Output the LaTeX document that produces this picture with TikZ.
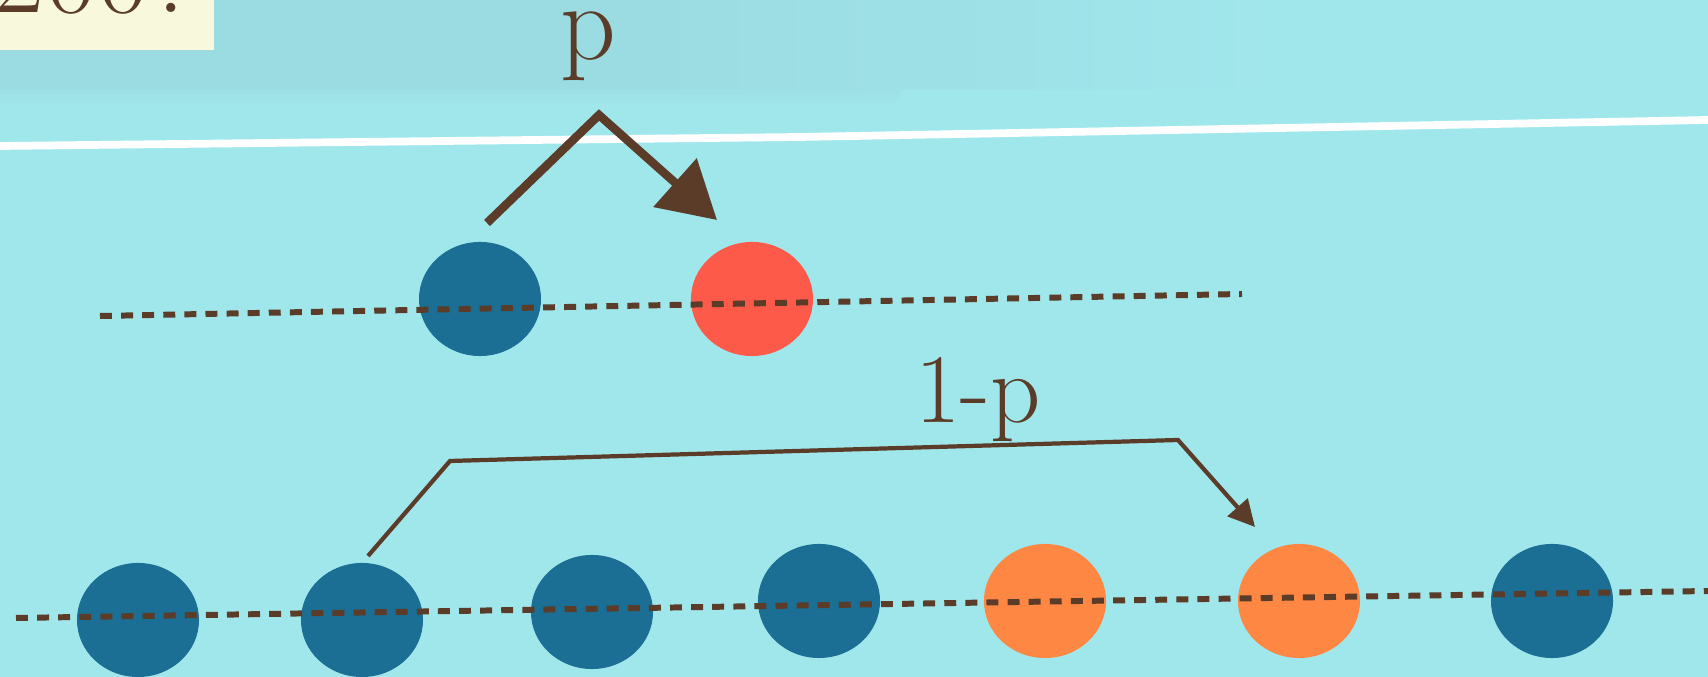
\documentclass[tikz,border=0pt]{standalone}
\usepackage{tikz}
\usetikzlibrary{shapes.geometric,arrows.meta}
\definecolor{poolbg}{HTML}{A0E7EC}
\definecolor{poolband}{HTML}{9BDCE2}
\definecolor{dotblue}{HTML}{1B6E94}
\definecolor{dotred}{HTML}{FE5A4A}
\definecolor{dotorange}{HTML}{FE8744}
\definecolor{inkbrown}{HTML}{5A3C28}
\definecolor{cream}{HTML}{F8F8DC}
\tikzset{
	dotnode/.style={ellipse, minimum width=1.22cm, minimum height=1.14cm, inner sep=0pt},
	bluedot/.style={dotnode, fill=dotblue},
	reddot/.style={dotnode, fill=dotred},
	orangedot/.style={dotnode, fill=dotorange},
	railline/.style={draw=inkbrown, line width=1.7pt, dash pattern=on 3.4pt off 2.6pt},
	jumparr/.style={draw=inkbrown, line width=2.4pt, line join=miter, -{Triangle[length=16pt, width=18pt]}},
	longarr/.style={draw=inkbrown, line width=1.2pt, line join=miter, -{Triangle[length=7.5pt, width=7.5pt]}},
	problabel/.style={text=inkbrown, anchor=base, inner sep=0pt, text height=1.6ex, text depth=0.25em}
}
\begin{document}
\begin{tikzpicture}[x=0.01cm, y=-0.01cm]
	\useasboundingbox (0,0) rectangle (1708,677);
	\fill[poolbg] (0,0) rectangle (1708,677);
	\shade[left color=poolband, right color=poolbg, middle color=poolband] (0,0) rectangle (1300,90);
	\shade[top color=poolband!60!poolbg, bottom color=poolbg] (0,90) rectangle (900,105);
	\draw[white, line width=2.2pt] (0,146) -- (800,137) -- (1708,120);
	\fill[cream] (0,0) rectangle (214,50);
	\node[anchor=base west, inner sep=0pt, text=inkbrown, font=\fontsize{32}{32}\selectfont] (title) at (-7,13) {200?};
	\node[bluedot] (t1) at (480,299) {};
	\node[reddot] (t2) at (752,299) {};
	\node[bluedot] (b1) at (138,620) {};
	\node[bluedot] (b2) at (362,620) {};
	\node[bluedot] (b3) at (592,612) {};
	\node[bluedot] (b4) at (819,601) {};
	\node[orangedot] (b5) at (1045,601) {};
	\node[orangedot] (b6) at (1299,601) {};
	\node[bluedot] (b7) at (1552,601) {};
	\coordinate (rail1a) at (100,316);
	\coordinate (rail1b) at (1242,294);
	\coordinate (rail2a) at (16,618);
	\coordinate (rail2b) at (1708,591);
	\draw[railline] (rail1a) -- (rail1b);
	\draw[railline] (rail2a) -- (rail2b);
	\coordinate (pfrom) at (487,223);
	\coordinate (ptop) at (599,115);
	\coordinate (pto) at (717,220);
	\draw[jumparr] (pfrom) -- (ptop) -- (pto);
	\node[problabel, font=\fontsize{31}{31}\selectfont] (plab) at (588,60) {p};
	\coordinate (qfrom) at (368,556);
	\coordinate (qleft) at (450,461);
	\coordinate (qright) at (1178,440);
	\coordinate (qto) at (1255,527);
	\draw[longarr] (qfrom) -- (qleft) -- (qright) -- (qto);
	\node[problabel, font=\fontsize{28}{28}\selectfont] (qlab) at (978,423) {1-p};
\end{tikzpicture}
\end{document}
